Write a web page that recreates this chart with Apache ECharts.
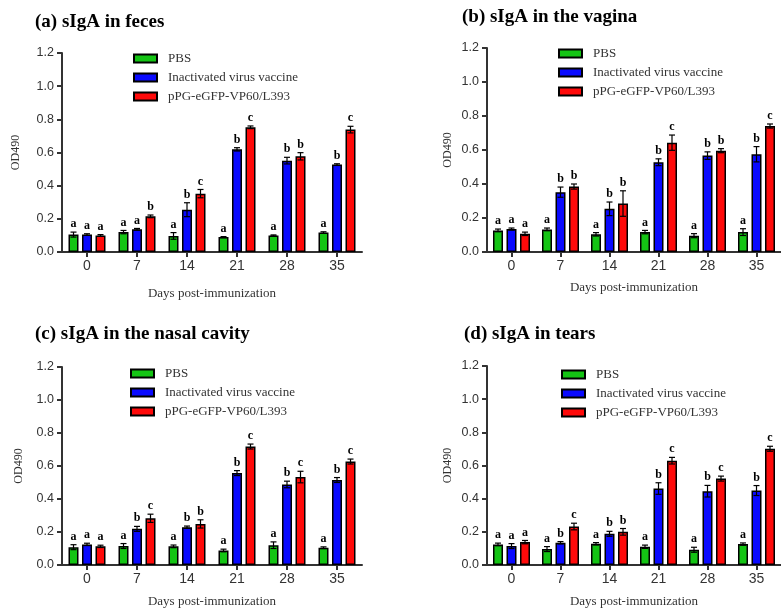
<!DOCTYPE html>
<html><head><meta charset="utf-8">
<script src="https://cdn.jsdelivr.net/npm/echarts@6/dist/echarts.min.js"></script>
<style>html,body{margin:0;padding:0;background:#fff}#c{width:781px;height:609px}</style>
</head><body><div id="c"></div>
<script>
// ---------- data ----------
const days = ['0', '7', '14', '21', '28', '35'];
const groupNames = ['PBS', 'Inactivated virus vaccine', 'pPG-eGFP-VP60/L393'];
const yTickLabels = ['0.0', '0.2', '0.4', '0.6', '0.8', '1.0', '1.2'];
const panelTitles = ['(a) sIgA in feces', '(b) sIgA in the vagina', '(c) sIgA in the nasal cavity', '(d) sIgA in tears'];

// (a) feces
const fecesPBS   = [0.105, 0.120, 0.097, 0.090, 0.100, 0.117];
const fecesInact = [0.105, 0.137, 0.255, 0.619, 0.551, 0.527];
const fecesPPG   = [0.100, 0.215, 0.352, 0.752, 0.577, 0.738];
const fecesPBSErr   = [0.015, 0.010, 0.020, 0.003, 0.003, 0.005];
const fecesInactErr = [0.005, 0.005, 0.042, 0.010, 0.020, 0.005];
const fecesPPGErr   = [0.005, 0.008, 0.025, 0.008, 0.022, 0.020];
const fecesPBSSig   = ['a', 'a', 'a', 'a', 'a', 'a'];
const fecesInactSig = ['a', 'a', 'b', 'b', 'b', 'b'];
const fecesPPGSig   = ['a', 'b', 'c', 'c', 'b', 'c'];

// (b) vagina
const vaginaPBS   = [0.127, 0.133, 0.104, 0.117, 0.096, 0.117];
const vaginaInact = [0.135, 0.352, 0.254, 0.528, 0.567, 0.575];
const vaginaPPG   = [0.107, 0.385, 0.285, 0.643, 0.596, 0.741];
const vaginaPBSErr   = [0.008, 0.008, 0.010, 0.010, 0.012, 0.020];
const vaginaInactErr = [0.006, 0.030, 0.040, 0.020, 0.022, 0.045];
const vaginaPPGErr   = [0.010, 0.015, 0.075, 0.045, 0.012, 0.012];
const vaginaPBSSig   = ['a', 'a', 'a', 'a', 'a', 'a'];
const vaginaInactSig = ['a', 'b', 'b', 'b', 'b', 'b'];
const vaginaPPGSig   = ['a', 'b', 'b', 'c', 'b', 'c'];

// (c) nasal cavity
const nasalPBS   = [0.108, 0.115, 0.113, 0.088, 0.120, 0.105];
const nasalInact = [0.125, 0.219, 0.229, 0.557, 0.488, 0.515];
const nasalPPG   = [0.113, 0.283, 0.249, 0.718, 0.533, 0.627];
const nasalPBSErr   = [0.015, 0.015, 0.008, 0.008, 0.020, 0.005];
const nasalInactErr = [0.007, 0.015, 0.007, 0.015, 0.020, 0.015];
const nasalPPGErr   = [0.007, 0.025, 0.025, 0.015, 0.035, 0.015];
const nasalPBSSig   = ['a', 'a', 'a', 'a', 'a', 'a'];
const nasalInactSig = ['a', 'b', 'b', 'b', 'b', 'b'];
const nasalPPGSig   = ['a', 'c', 'b', 'c', 'c', 'c'];

// (d) tears
const tearsPBS   = [0.124, 0.096, 0.128, 0.110, 0.092, 0.126];
const tearsInact = [0.114, 0.134, 0.188, 0.461, 0.445, 0.449];
const tearsPPG   = [0.138, 0.232, 0.200, 0.629, 0.521, 0.701];
const tearsPBSErr   = [0.008, 0.015, 0.007, 0.010, 0.015, 0.007];
const tearsInactErr = [0.015, 0.007, 0.015, 0.035, 0.035, 0.030];
const tearsPPGErr   = [0.010, 0.020, 0.020, 0.020, 0.015, 0.015];
const tearsPBSSig   = ['a', 'a', 'a', 'a', 'a', 'a'];
const tearsInactSig = ['a', 'b', 'b', 'b', 'b', 'b'];
const tearsPPGSig   = ['a', 'c', 'b', 'c', 'c', 'c'];

// ---------- layout / style ----------
const colors = ['#14c414', '#0a0aff', '#ff0a0a'];
const SERIF = 'Liberation Serif';
const SANS = 'Liberation Sans';
const BAR_W = 10, BAR_GAP = 0.35;

const panels = [
  { means: [fecesPBS, fecesInact, fecesPPG], errs: [fecesPBSErr, fecesInactErr, fecesPPGErr], sigs: [fecesPBSSig, fecesInactSig, fecesPPGSig],
    grid: { left: 62, top: 53, width: 300, height: 199 }, title: { left: 35, top: 13 }, legend: { left: 133, top: 52 }, yGap: 40, xGap: 35 },
  { means: [vaginaPBS, vaginaInact, vaginaPPG], errs: [vaginaPBSErr, vaginaInactErr, vaginaPPGErr], sigs: [vaginaPBSSig, vaginaInactSig, vaginaPPGSig],
    grid: { left: 487, top: 48, width: 300, height: 204 }, title: { left: 462, top: 8 }, legend: { left: 558, top: 47 }, yGap: 33, xGap: 29 },
  { means: [nasalPBS, nasalInact, nasalPPG], errs: [nasalPBSErr, nasalInactErr, nasalPPGErr], sigs: [nasalPBSSig, nasalInactSig, nasalPPGSig],
    grid: { left: 62, top: 367, width: 300, height: 199 }, title: { left: 35, top: 325 }, legend: { left: 130, top: 367 }, yGap: 37, xGap: 30 },
  { means: [tearsPBS, tearsInact, tearsPPG], errs: [tearsPBSErr, tearsInactErr, tearsPPGErr], sigs: [tearsPBSSig, tearsInactSig, tearsPPGSig],
    grid: { left: 487, top: 366, width: 300, height: 200 }, title: { left: 464, top: 325 }, legend: { left: 561, top: 368 }, yGap: 33, xGap: 30 }
];

const option = {
  animation: false,
  backgroundColor: '#fff',
  title: [], legend: [], grid: [], xAxis: [], yAxis: [], series: []
};

panels.forEach((p, pi) => {
  option.title.push({
    text: panelTitles[pi], left: p.title.left, top: p.title.top, padding: 0,
    textStyle: { fontFamily: SERIF, fontWeight: 'bold', fontSize: 19, color: '#000' }
  });
  option.legend.push({
    left: p.legend.left, top: p.legend.top, orient: 'vertical', padding: 0,
    itemWidth: 23, itemHeight: 8, itemGap: 6, icon: 'rect', selectedMode: false,
    data: groupNames,
    textStyle: { fontFamily: SERIF, fontSize: 13, color: '#333', lineHeight: 12, padding: [0, 0, 0, 6] }
  });
  option.grid.push(Object.assign({ containLabel: false }, p.grid));
  option.xAxis.push({
    type: 'category', gridIndex: pi, data: days,
    name: 'Days post-immunization', nameLocation: 'middle', nameGap: p.xGap,
    nameTextStyle: { fontFamily: SERIF, fontSize: 13, color: '#333' },
    axisLine: { lineStyle: { color: '#333', width: 2 } },
    axisTick: { show: true, alignWithLabel: true, length: 5, lineStyle: { color: '#333', width: 2 } },
    axisLabel: { fontFamily: SANS, fontSize: 14, color: '#333', margin: 7 },
    splitLine: { show: false }
  });
  option.yAxis.push({
    type: 'value', gridIndex: pi, min: 0, max: 1.2, interval: 0.2,
    name: 'OD490', nameLocation: 'middle', nameGap: p.yGap,
    nameTextStyle: { fontFamily: SERIF, fontSize: 12, color: '#333' },
    axisLine: { show: true, lineStyle: { color: '#333', width: 2 } },
    axisTick: { show: true, length: 5, lineStyle: { color: '#333', width: 2 } },
    axisLabel: { fontFamily: SANS, fontSize: 12.5, color: '#333', margin: 8,
      formatter: v => yTickLabels[Math.round(v / 0.2)] },
    splitLine: { show: false }
  });
  for (let s = 0; s < 3; s++) {
    option.series.push({
      type: 'bar', name: groupNames[s], xAxisIndex: pi, yAxisIndex: pi,
      data: p.means[s], barWidth: BAR_W, barGap: (BAR_GAP * 100) + '%',
      itemStyle: { color: colors[s], borderColor: '#000', borderWidth: 1.5 },
      z: 2
    });
  }
  const total = 3 * BAR_W + 2 * BAR_W * BAR_GAP;
  for (let s = 0; s < 3; s++) {
    const offset = -total / 2 + BAR_W / 2 + s * BAR_W * (1 + BAR_GAP);
    const data = days.map((d, i) => [i, p.means[s][i], p.errs[s][i], p.sigs[s][i]]);
    option.series.push({
      type: 'custom', xAxisIndex: pi, yAxisIndex: pi, z: 5, clip: false,
      encode: { x: 0, y: 1 },
      data: data,
      renderItem: (params, api) => {
        const idx = api.value(0), m = api.value(1), e = api.value(2);
        const letter = data[params.dataIndex][3];
        const cx = api.coord([idx, m])[0] + offset;
        const yT = api.coord([idx, m + e])[1];
        const yB = api.coord([idx, m - e])[1];
        const st = { stroke: '#000', lineWidth: 1.2 };
        return {
          type: 'group', children: [
            { type: 'line', shape: { x1: cx, y1: yT, x2: cx, y2: yB }, style: st },
            { type: 'line', shape: { x1: cx - 3, y1: yT, x2: cx + 3, y2: yT }, style: st },
            { type: 'line', shape: { x1: cx - 3, y1: yB, x2: cx + 3, y2: yB }, style: st },
            { type: 'text', x: cx, y: yT - 2, style: { text: letter, textAlign: 'center', textVerticalAlign: 'bottom',
              fontFamily: SERIF, fontWeight: 'bold', fontSize: 12, fill: '#000' } }
          ]
        };
      }
    });
  }
});

const chart = echarts.init(document.getElementById('c'), null, { renderer: 'canvas' });
chart.setOption(option);
</script>
</body></html>
